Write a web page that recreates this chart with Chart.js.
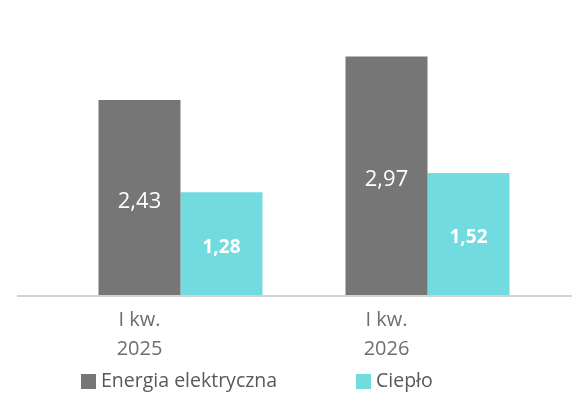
<!DOCTYPE html>
<html lang="pl">
<head>
<meta charset="utf-8">
<script src="https://cdn.jsdelivr.net/npm/chart.js@4/dist/chart.umd.min.js"></script>
<style>
  html, body { margin: 0; padding: 0; background: #fff; }
  #wrap { width: 572px; height: 394px; }
</style>
</head>
<body>
<div id="wrap"><canvas id="kwChart" width="572" height="394"></canvas></div>
<script>
// Quarterly values (I kw.), comma used as decimal separator in labels
const quarters = [["I kw.", "2025"], ["I kw.", "2026"]];
const seriesNames = ["Energia elektryczna", "Ciepło"];
const energiaValues = [2.43, 2.97];
const cieploValues = [1.28, 1.52];
const seriesColors = ["#767676", "#72dbe0"];

const FONT = "'Open Sans', sans-serif";

function fmt(v) {
  return v.toFixed(2).replace(".", ",");
}

// White value labels centred inside each bar
const barValues = {
  id: "barValues",
  afterDatasetsDraw(chart) {
    const ctx = chart.ctx;
    ctx.save();
    ctx.fillStyle = "#ffffff";
    ctx.textAlign = "center";
    ctx.textBaseline = "middle";
    chart.data.datasets.forEach((ds, i) => {
      const meta = chart.getDatasetMeta(i);
      ctx.font = i === 0 ? "22px " + FONT : "bold 19px " + FONT;
      meta.data.forEach((bar, j) => {
        const mid = (bar.y + bar.base) / 2 + 4;
        ctx.fillText(fmt(ds.data[j]), bar.x, mid);
      });
    });
    ctx.restore();
  }
};

// Light baseline running under both groups to the right edge
const baseline = {
  id: "baseline",
  afterDatasetsDraw(chart) {
    const y = chart.scales.y.getPixelForValue(0);
    const ctx = chart.ctx;
    ctx.save();
    ctx.strokeStyle = "#d3d3d3";
    ctx.lineWidth = 2;
    ctx.beginPath();
    ctx.moveTo(17, y + 1);
    ctx.lineTo(chart.width, y + 1);
    ctx.stroke();
    ctx.restore();
  }
};

// Legend drawn at the bottom with square markers
const bottomLegend = {
  id: "bottomLegend",
  afterDraw(chart) {
    const ctx = chart.ctx;
    const starts = [81, 356];
    const y = 381;
    ctx.save();
    ctx.font = "19.5px " + FONT;
    ctx.textBaseline = "middle";
    ctx.textAlign = "left";
    chart.data.datasets.forEach((ds, i) => {
      const x = starts[i];
      ctx.fillStyle = ds.backgroundColor;
      ctx.fillRect(x, y - 7, 15, 15);
      ctx.fillStyle = "#595959";
      ctx.fillText(ds.label, x + 20, y);
    });
    ctx.restore();
  }
};

new Chart(document.getElementById("kwChart"), {
  type: "bar",
  data: {
    labels: quarters,
    datasets: [
      { label: seriesNames[0], data: energiaValues, backgroundColor: seriesColors[0] },
      { label: seriesNames[1], data: cieploValues, backgroundColor: seriesColors[1] }
    ]
  },
  options: {
    responsive: false,
    animation: false,
    layout: { padding: { top: 14, left: 57, right: 21, bottom: 30 } },
    datasets: {
      bar: { categoryPercentage: 0.664, barPercentage: 1 }
    },
    scales: {
      x: {
        grid: { display: false, drawTicks: false },
        border: { display: false },
        afterFit(scale) { scale.height = 69; },
        ticks: {
          labelOffset: -41,
          padding: 11,
          color: "#6e6e6e",
          font: { family: FONT, size: 20, lineHeight: 1.45 }
        }
      },
      y: {
        display: false,
        min: 0,
        max: 3.5
      }
    },
    plugins: {
      legend: { display: false },
      tooltip: { enabled: false }
    }
  },
  plugins: [barValues, baseline, bottomLegend]
});
</script>
</body>
</html>
